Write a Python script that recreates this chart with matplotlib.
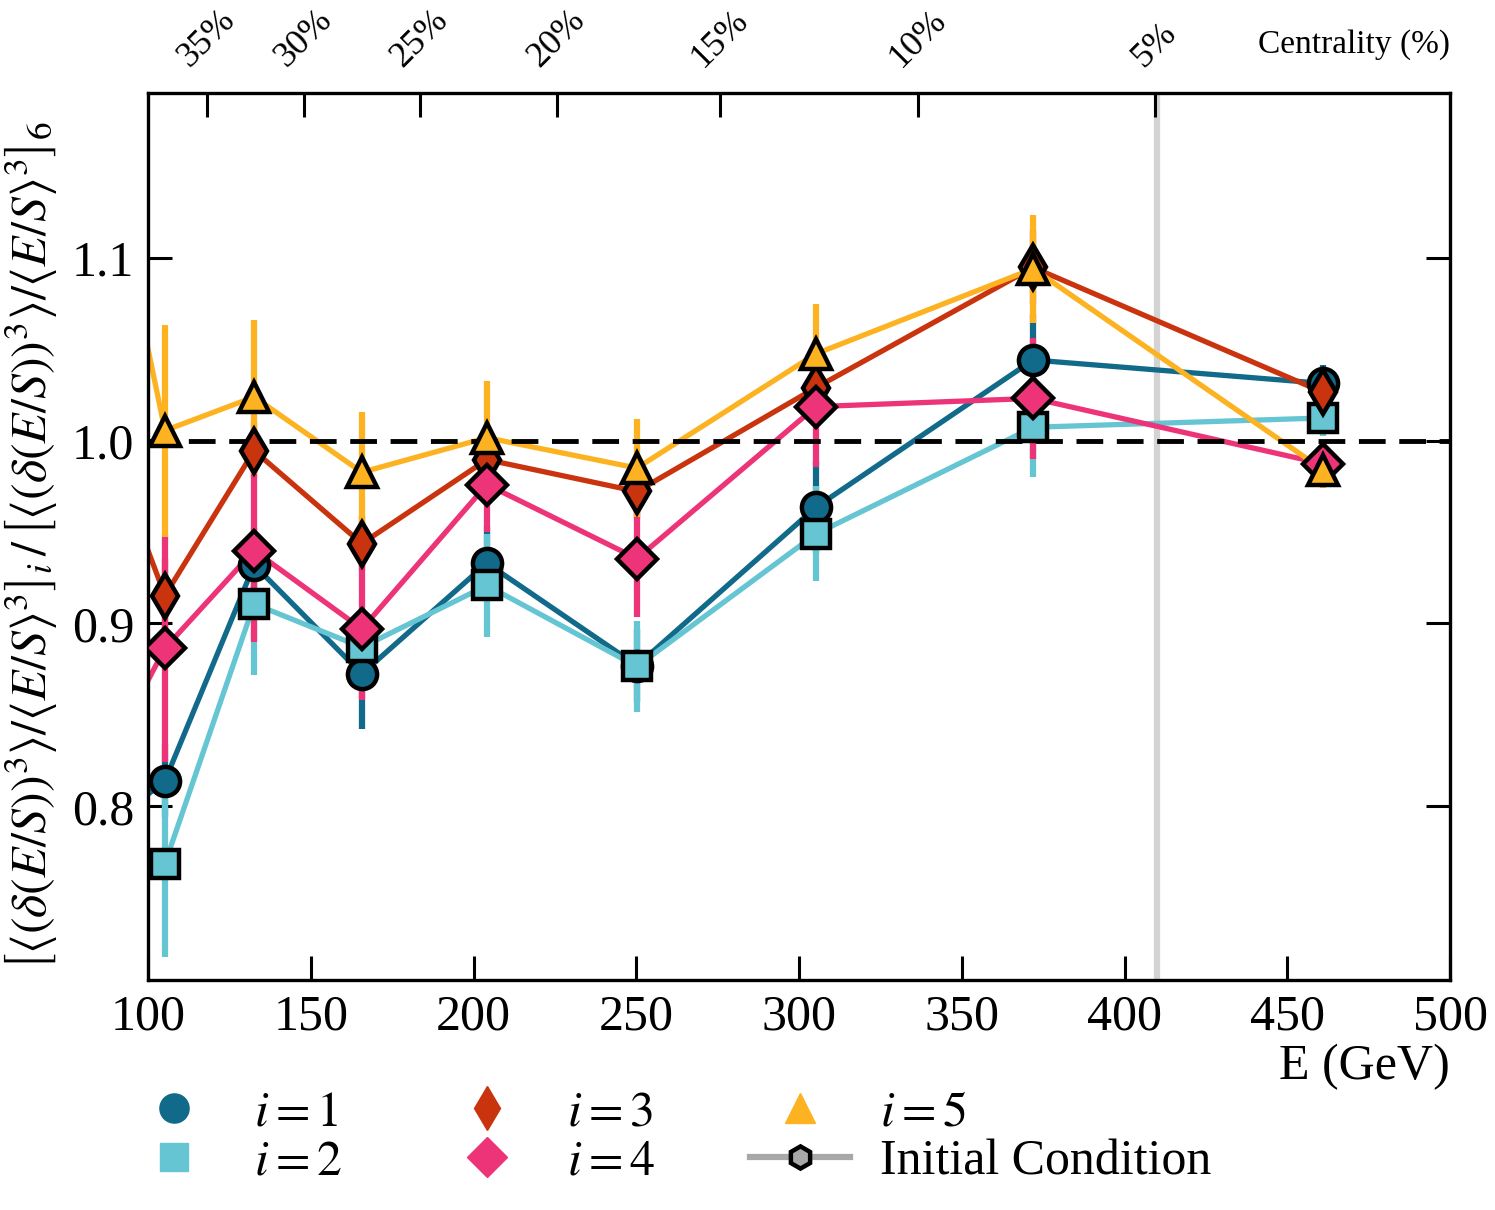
import matplotlib
matplotlib.use("Agg")
import matplotlib.pyplot as plt
from matplotlib.lines import Line2D

plt.rcParams["font.family"] = "serif"
plt.rcParams["font.serif"] = ["Liberation Serif", "DejaVu Serif"]
plt.rcParams["mathtext.fontset"] = "stix"

# collision energy of each centrality bin (first one lies left of the axis)
energy = [82, 105.2, 132.6, 165.7, 204.1, 250.2, 305.2, 371.9, 461.0]

ratio_1 = [0.781, 0.814, 0.932, 0.8725, 0.933, 0.877, 0.9636, 1.0441, 1.0313]
err_1 = [0.02, 0.02, 0.02, 0.030, 0.02, 0.02, 0.025, 0.025, 0.010]
ratio_2 = [0.765, 0.7687, 0.9107, 0.887, 0.9208, 0.8765, 0.949, 1.0073, 1.0124]
err_2 = [0.05, 0.051, 0.039, 0.015, 0.028, 0.025, 0.026, 0.027, 0.010]
ratio_3 = [1.025, 0.9153, 0.9945, 0.9437, 0.9896, 0.9722, 1.029, 1.0947, 1.0264]
err_3 = [0.02, 0.02, 0.015, 0.015, 0.015, 0.015, 0.015, 0.02, 0.01]
ratio_4 = [0.808, 0.8865, 0.9399, 0.897, 0.976, 0.9355, 1.0186, 1.0231, 0.9873]
err_4 = [0.06, 0.062, 0.050, 0.039, 0.026, 0.032, 0.033, 0.033, 0.012]
ratio_5 = [1.205, 1.0055, 1.0239, 0.9827, 1.0016, 0.985, 1.0475, 1.094, 0.984]
err_5 = [0.06, 0.058, 0.042, 0.033, 0.031, 0.027, 0.027, 0.0295, 0.01]

centrality_energy = [118.1, 147.9, 183.6, 225.7, 275.7, 336.5, 409.4]
centrality_labels = ["35%", "30%", "25%", "20%", "15%", "10%", "5%"]

series = [
    (ratio_1, err_1, "#116a8a", "o", 21, r"$i=1$"),
    (ratio_2, err_2, "#66c5d2", "s", 20, r"$i=2$"),
    (ratio_3, err_3, "#c9340f", "d", 22, r"$i=3$"),
    (ratio_4, err_4, "#ee3479", "D", 20, r"$i=4$"),
    (ratio_5, err_5, "#fdb321", "^", 22, r"$i=5$"),
]

fig = plt.figure(figsize=(14.95, 12.10), dpi=100)
ax = fig.add_axes([0.099, 0.19, 0.871, 0.733])

ax.axvline(410, color="#d3d3d3", lw=4.5, zorder=1)

handles = []
for k, (vals, errs, color, marker, ms, label) in enumerate(series):
    ax.errorbar(energy, vals, yerr=errs, fmt="none", ecolor=color,
                elinewidth=4.5, zorder=2)
    ax.plot(energy, vals, color=color, lw=3.8, zorder=2.5)
    ax.plot(energy, vals, ls="none", marker=marker, ms=ms, mfc=color,
            mec="black", mew=3.2, zorder=4 + k)
    handles.append(Line2D([], [], ls="none", marker=marker, ms=ms,
                          mfc=color, mec=color, label=label))

handles.append(Line2D([], [], color="#a8a8a8", lw=4.5, marker="h", ms=16,
                      mfc="#a8a8a8", mec="black", mew=3.2,
                      label="Initial Condition"))

ax.axhline(1.0, color="black", lw=3.5, dashes=(5.5, 2.8), zorder=3)

ax.set_xlim(100, 500)
ax.set_ylim(0.705, 1.19)
ax.set_xticks([100, 150, 200, 250, 300, 350, 400, 450, 500])
ax.set_yticks([0.8, 0.9, 1.0, 1.1])
ax.tick_params(axis="both", which="major", direction="in", length=17,
               width=2.2, labelsize=36, pad=10, top=False, right=True)
for spine in ax.spines.values():
    spine.set_linewidth(2.4)

ax.set_xlabel("E (GeV)", fontsize=36, loc="right", labelpad=2)
ax.set_ylabel(r"$\left[\langle(\delta(E/S))^3\rangle/\langle E/S\rangle^3\right]_i"
              r"\,/\,\left[\langle(\delta(E/S))^3\rangle/\langle E/S\rangle^3\right]_6$",
              fontsize=36)
ax.yaxis.set_label_coords(-0.068, 0.49)

top = ax.twiny()
top.set_xlim(ax.get_xlim())
top.set_xticks(centrality_energy)
top.set_xticklabels(centrality_labels, rotation=45)
top.tick_params(axis="x", direction="in", length=17, width=2.2,
                labelsize=26, pad=14)
ax.text(1.0, 1.055, "Centrality (%)", transform=ax.transAxes,
        ha="right", va="center", fontsize=24)

fig.legend(handles=handles, loc="upper left", ncol=3,
           bbox_to_anchor=(0.066, 0.12), frameon=False, fontsize=36,
           handlelength=2.0, handletextpad=0.6, columnspacing=1.9,
           labelspacing=0.05, borderpad=0)

fig.savefig("out.png", dpi=100)
